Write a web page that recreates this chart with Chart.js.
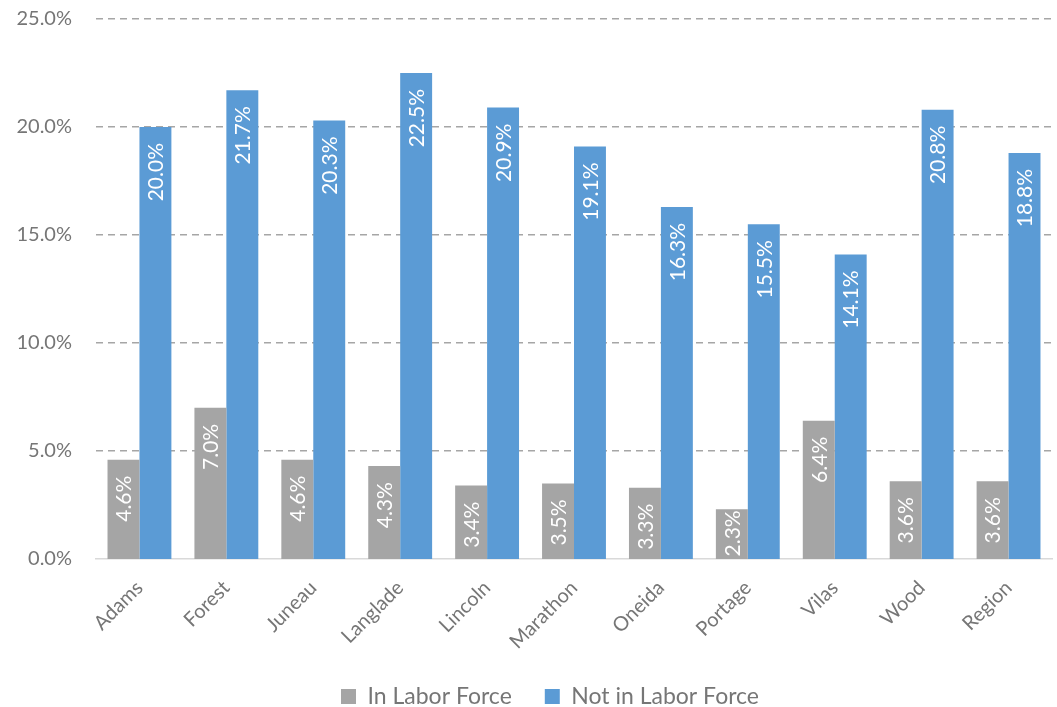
<!DOCTYPE html>
<html>
<head>
<meta charset="utf-8">
<script src="https://cdn.jsdelivr.net/npm/chart.js@4/dist/chart.umd.min.js"></script>
<style>
  html, body { margin: 0; padding: 0; background: #fff; }
  #wrap { width: 1057px; height: 707px; }
</style>
</head>
<body>
<div id="wrap"><canvas id="barChart"></canvas></div>
<script>
const counties = ["Adams", "Forest", "Juneau", "Langlade", "Lincoln", "Marathon", "Oneida", "Portage", "Vilas", "Wood", "Region"];
const inLaborForce = [4.6, 7.0, 4.6, 4.3, 3.4, 3.5, 3.3, 2.3, 6.4, 3.6, 3.6];
const notInLaborForce = [20.0, 21.7, 20.3, 22.5, 20.9, 19.1, 16.3, 15.5, 14.1, 20.8, 18.8];
const yTicks = [0, 5, 10, 15, 20, 25];

const fontFamily = "Lato, 'Open Sans', sans-serif";
const textGrey = "#767676";

// value labels written vertically inside the top of each bar,
// pushed up towards the bar end when the bar is too short
const barLabels = {
    id: "barLabels",
    afterDatasetsDraw(chart) {
        const ctx = chart.ctx;
        ctx.save();
        ctx.fillStyle = "#ffffff";
        ctx.font = "21px " + fontFamily;
        ctx.textAlign = "right";
        ctx.textBaseline = "middle";
        chart.data.datasets.forEach((ds, i) => {
            const meta = chart.getDatasetMeta(i);
            meta.data.forEach((bar, j) => {
                const text = ds.data[j].toFixed(1) + "%";
                const len = ctx.measureText(text).width;
                const gap = Math.max(1, Math.min(16, bar.base - bar.y - len - 3));
                ctx.save();
                ctx.translate(bar.x + 1, bar.y + gap);
                ctx.rotate(-Math.PI / 2);
                ctx.fillText(text, 0, 0);
                ctx.restore();
            });
        });
        ctx.restore();
    }
};

// fixed legend height, and legend nudged a little right of centre
const legendPlace = {
    id: "legendPlace",
    beforeInit(chart) {
        const fit = chart.legend.fit;
        chart.legend.fit = function () {
            fit.call(this);
            this.height = 55;
        };
    },
    afterLayout(chart) {
        chart.legend.left += 24;
        chart.legend.right += 24;
    }
};

new Chart("barChart", {
    type: "bar",
    data: {
        labels: counties,
        datasets: [{
            label: "In Labor Force",
            data: inLaborForce,
            backgroundColor: "#A5A5A5"
        }, {
            label: "Not in Labor Force",
            data: notInLaborForce,
            backgroundColor: "#5B9BD5"
        }]
    },
    options: {
        responsive: true,
        maintainAspectRatio: false,
        animation: false,
        layout: { padding: { top: 19, right: 5, left: 0, bottom: 0 } },
        datasets: {
            bar: { categoryPercentage: 0.735, barPercentage: 1.0 }
        },
        scales: {
            x: {
                afterFit(scale) { scale.height = 93; },
                grid: { display: false },
                border: { display: true, color: "#d9d9d9", width: 1.5 },
                ticks: {
                    color: textGrey,
                    font: { family: fontFamily, size: 20 },
                    minRotation: 45,
                    maxRotation: 45,
                    padding: 9
                }
            },
            y: {
                min: 0,
                max: 25,
                afterFit(scale) { scale.width = 96; scale.paddingTop = 0; },
                afterBuildTicks(scale) { scale.ticks = yTicks.map(v => ({ value: v })); },
                border: { display: false, dash: [7, 5] },
                grid: {
                    drawTicks: false,
                    color: "#a6a6a6",
                    lineWidth: ctx => ctx.tick && ctx.tick.value === 0 ? 0 : 1.5
                },
                ticks: {
                    color: textGrey,
                    padding: 24,
                    font: { family: fontFamily, size: 20 },
                    callback: v => v.toFixed(1) + "%"
                }
            }
        },
        plugins: {
            legend: {
                position: "bottom",
                labels: {
                    color: textGrey,
                    font: { family: fontFamily, size: 23 },
                    boxWidth: 15,
                    boxHeight: 15,
                    padding: 33
                }
            },
            tooltip: { enabled: false }
        }
    },
    plugins: [barLabels, legendPlace]
});
</script>
</body>
</html>
